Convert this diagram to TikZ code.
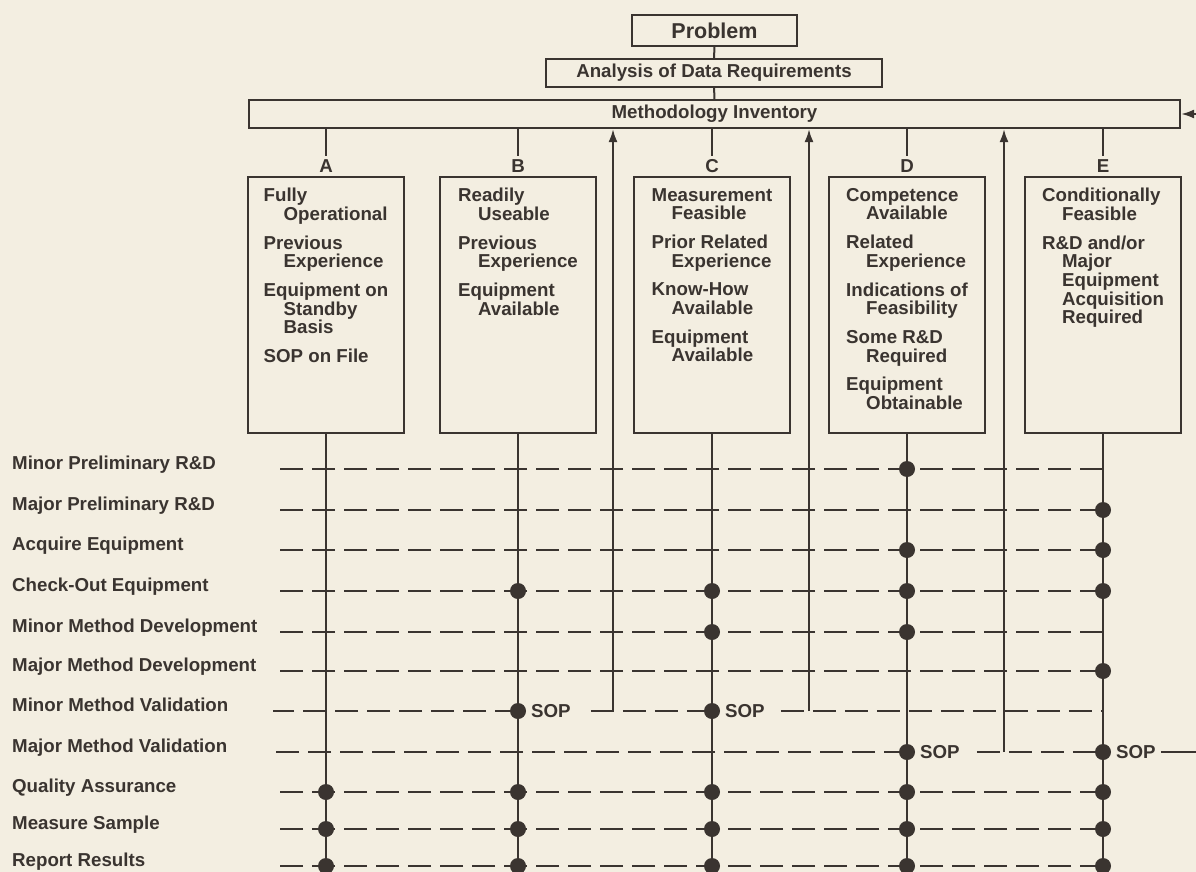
\documentclass[tikz,border=0pt]{standalone}
\usepackage{fontspec}
\setmainfont{Liberation Sans}
\usetikzlibrary{arrows.meta}
\definecolor{paper}{RGB}{243,238,225}
\definecolor{ink}{RGB}{58,52,48}
\newcommand{\ind}{\hspace*{20pt}}
\begin{document}
\begin{tikzpicture}[x=1pt, y=-1pt,
    every node/.style={text=ink, font=\fontsize{18.7}{18.7}\selectfont\bfseries},
    box/.style={draw=ink, line width=2.2pt, inner sep=0pt},
    txt/.style={anchor=north, align=left, inner sep=0pt},
    link/.style={draw=ink, line width=2pt},
    row/.style={draw=ink, line width=2.6pt, dash pattern=on 23pt off 9pt},
    fb/.style={draw=ink, line width=2pt, -{Latex[length=13pt,width=9pt]}},
    sop/.style={anchor=west, inner sep=0pt}]
    % 1. Page and background
    \fill[paper] (0,0) rectangle (1196,872);
    \useasboundingbox (0,0) rectangle (1196,872);

    % 2. Top chain
    \node[box, minimum width=165pt, minimum height=31pt,
          font=\fontsize{21.5}{21.5}\selectfont\bfseries] (prob) at (714.5,30.5) {Problem};
    \node[box, minimum width=336pt, minimum height=28pt] (ana) at (714,73) {Analysis of Data Requirements};
    \node[box, minimum width=931pt, minimum height=28pt] (inv) at (714.5,114) {Methodology Inventory};
    \draw[link] (prob) -- (ana);
    \draw[link] (ana) -- (inv);

    % 3. Columns A to E
    \coordinate (bot) at (0,885);
    \foreach \c/\L/\x in {a/A/326, b/B/518, c/C/712, d/D/907, e/E/1103} {
        \node[box, anchor=north, minimum width=156pt, minimum height=256pt] (box\c) at (\x,176) {};
        \node[inner sep=3pt] (let\c) at (\x,166) {\L};
        \draw[link] (inv.south -| let\c) -- (let\c.north);
    }
    \node[txt] (txta) at (326,188) {Fully\\\ind Operational\\[10pt]Previous\\\ind Experience\\[10pt]%
        Equipment on\\\ind Standby\\\ind Basis\\[10pt]SOP on File};
    \node[txt] (txtb) at (518,188) {Readily\\\ind Useable\\[10pt]Previous\\\ind Experience\\[10pt]%
        Equipment\\\ind Available};
    \node[txt] (txtc) at (712,188) {Measurement\\\ind Feasible\\[10pt]Prior Related\\\ind Experience\\[10pt]%
        Know-How\\\ind Available\\[10pt]Equipment\\\ind Available};
    \node[txt] (txtd) at (907,188) {Competence\\\ind Available\\[10pt]Related\\\ind Experience\\[10pt]%
        Indications of\\\ind Feasibility\\[10pt]Some R\&D\\\ind Required\\[10pt]Equipment\\\ind Obtainable};
    \node[txt] (txte) at (1103,188) {Conditionally\\\ind Feasible\\[10pt]R\&D and/or\\\ind Major\\\ind Equipment\\%
        \ind Acquisition\\\ind Required};

    % 4. Steps on the left
    \coordinate (start) at (273,0);
    \foreach \n/\y/\t in {1/469/Minor Preliminary R\&D, 2/510/Major Preliminary R\&D,
        3/550/Acquire Equipment, 4/591/Check-Out Equipment, 5/632/Minor Method Development,
        6/671/Major Method Development, 7/711/Minor Method Validation, 8/752/Major Method Validation,
        9/792/Quality Assurance, 10/829/Measure Sample, 11/866/Report Results}
        \node[anchor=base west, inner sep=0pt] (r\n) at (12,\y) {\t};

    % 5. Dashed step lines
    \foreach \n in {1,2,3,4,5,6,9,10,11}
        \draw[row] (boxe.south |- r\n.base west) -- (start |- r\n.base west);
    \coordinate (b7) at (boxb.south |- r7.base west);
    \coordinate (c7) at (boxc.south |- r7.base west);
    \coordinate (d8) at (boxd.south |- r8.base west);
    \coordinate (e8) at (boxe.south |- r8.base west);
    \node[sop] (sopb) at ([xshift=13pt]b7) {SOP};
    \node[sop] (sopc) at ([xshift=13pt]c7) {SOP};
    \node[sop] (sopd) at ([xshift=13pt]d8) {SOP};
    \node[sop] (sope) at ([xshift=13pt]e8) {SOP};
    \draw[row] (b7) -- (start |- r7.base west);
    \draw[row] ([xshift=20pt]sopb.east) -- (c7);
    \draw[row] ([xshift=16pt]sopc.east) -- (boxe.south |- r7.base west);
    \draw[row] (d8) -- (start |- r8.base west);
    \draw[row] ([xshift=17pt]sopd.east) -- (e8);

    % 6. Column lines down the page
    \foreach \c in {a,b,c,d,e}
        \draw[link] (box\c.south) -- (box\c.south |- bot);

    % 7. Return arrows to the inventory
    \coordinate (up1) at (613,0);
    \coordinate (up2) at (809,0);
    \coordinate (up3) at (1004,0);
    \coordinate (edge) at (1199,0);
    \draw[fb] (up1 |- r7.base west) -- (up1 |- inv.south);
    \draw[fb] (up2 |- r7.base west) -- (up2 |- inv.south);
    \draw[fb] (up3 |- r8.base west) -- (up3 |- inv.south);
    \draw[fb] ([xshift=5pt]sope.east) -- (edge |- sope.east) -- (edge |- inv.east) -- (inv.east);

    % 8. Dots
    \foreach \c/\n in {d/1, e/2, d/3, e/3, b/4, c/4, d/4, e/4, c/5, d/5, e/6,
        b/7, c/7, d/8, e/8, a/9, b/9, c/9, d/9, e/9, a/10, b/10, c/10, d/10, e/10,
        a/11, b/11, c/11, d/11, e/11}
        \fill[ink] (box\c.south |- r\n.base west) circle (8pt);
\end{tikzpicture}
\end{document}
